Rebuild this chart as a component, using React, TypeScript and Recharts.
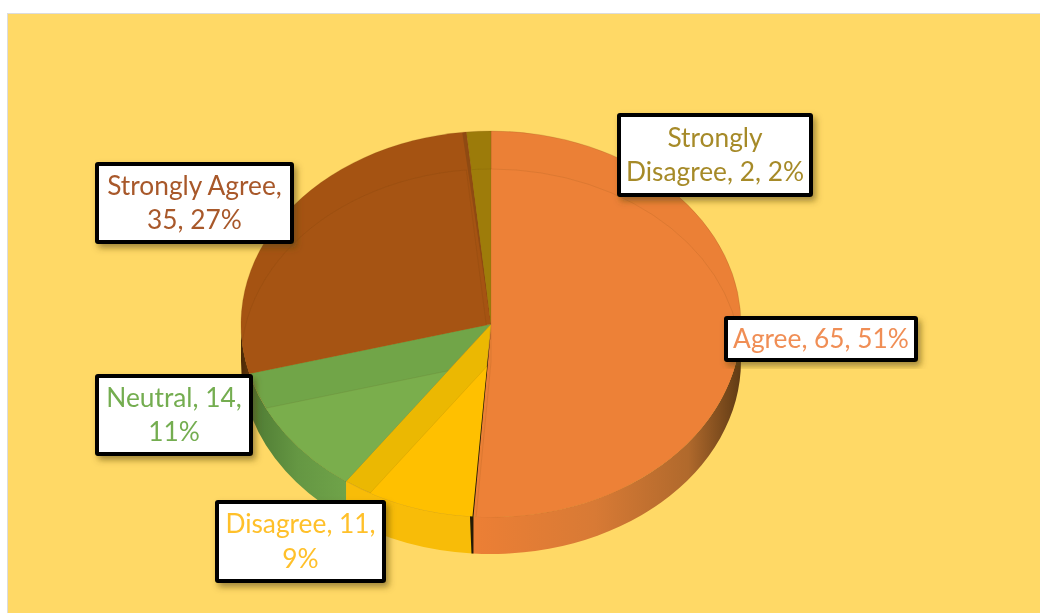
import React from 'react';
import { PieChart, Pie } from 'recharts';

const categories = ['Agree', 'Disagree', 'Neutral', 'Strongly Agree', 'Strongly Disagree'];
const values = [65, 11, 14, 35, 2];
const labelLines = [
    ['Agree, 65, 51%'],
    ['Disagree, 11,', '9%'],
    ['Neutral, 14,', '11%'],
    ['Strongly Agree,', '35, 27%'],
    ['Strongly', 'Disagree, 2, 2%'],
];

const bandColors = ['#eb8036', '#ebb802', '#71a548', '#a55312', '#9c7b0a'];
const faceColors = ['#ed8137', '#ffc000', '#7aae4c', '#a65413', '#9e7c0a'];
const wallColors = ['url(#wallOrange)', '#f8bc08', 'url(#wallGreen)', 'url(#wallBrown)', '#7a5f08'];
const textColors = ['#f08e55', '#ffc02a', '#74ad50', '#a8582a', '#a68a28'];

// x, y, width, height of the callouts
const labelBoxes = [
    [726, 318, 190, 42],
    [217, 502, 167, 79],
    [97, 376, 154, 78],
    [97, 164, 195, 78],
    [619, 115, 192, 80],
];

const CX = 491;
const CY = 324;
const RX = 250;
const RY = 193;
const DEPTH = 37;
const BEVEL = 38;

const pt = (cx: number, cy: number, angle: number) => {
    const rad = (angle * Math.PI) / 180;
    return [cx + RX * Math.cos(rad), cy - RY * Math.sin(rad)];
};

const sectorPath = (cx: number, cy: number, start: number, end: number) => {
    const [x1, y1] = pt(cx, cy, start);
    const [x2, y2] = pt(cx, cy, end);
    const large = Math.abs(start - end) > 180 ? 1 : 0;
    return `M${cx} ${cy}L${x1} ${y1}A${RX} ${RY} 0 ${large} 1 ${x2} ${y2}Z`;
};

const WallShape = (props: any) => {
    const s = Math.min(props.startAngle, 0);
    const e = Math.max(props.endAngle, -180);
    if (s <= e) return null;
    const [x1, y1] = pt(props.cx, props.cy, s);
    const [x2, y2] = pt(props.cx, props.cy, e);
    const d = `M${x1} ${y1}A${RX} ${RY} 0 0 1 ${x2} ${y2}L${x2} ${y2 + DEPTH}A${RX} ${RY} 0 0 0 ${x1} ${y1 + DEPTH}Z`;
    return <path d={d} fill={wallColors[categories.indexOf(props.name)]} />;
};

const BandShape = (props: any) => {
    const i = categories.indexOf(props.name);
    const d = sectorPath(props.cx, props.cy, props.startAngle, props.endAngle);
    return <path d={d} fill={bandColors[i]} stroke="#7a4a10" strokeOpacity={0.18} strokeWidth={1} />;
};

const FaceShape = (props: any) => {
    const i = categories.indexOf(props.name);
    const outer = sectorPath(props.cx, props.cy - BEVEL, props.startAngle, props.endAngle);
    const inner = sectorPath(props.cx, props.cy, props.startAngle, props.endAngle);
    const [ex, ey] = pt(props.cx, props.cy - BEVEL, props.endAngle);
    return (
        <g>
            <clipPath id={`face-${i}`}>
                <path d={outer} />
            </clipPath>
            <path d={inner} fill={faceColors[i]} stroke="#5a3a10" strokeOpacity={0.1} clipPath={`url(#face-${i})`} />
            {i === 0 && (
                <path
                    d={`M${props.cx} ${props.cy - BEVEL + 6}L${ex + 1} ${ey}L${ex + 1} ${ey + DEPTH}L${ex - 1} ${ey + DEPTH}L${ex - 2.5} ${ey}Z`}
                    fill="#241b06"
                />
            )}
            {i === 3 && (
                <path
                    d={`M${props.cx} ${props.cy - BEVEL}L${ex} ${ey}L${ex - 4} ${ey + 1}Z`}
                    fill="#8f4a12"
                />
            )}
        </g>
    );
};

const renderLabel = (props: any) => {
    const i = categories.indexOf(props.name);
    const [x, y, w, h] = labelBoxes[i];
    const lines = labelLines[i];
    const lineHeight = 34.5;
    const firstY = y + h / 2 - ((lines.length - 1) * lineHeight) / 2 - 1;
    return (
        <g key={props.name}>
            <rect x={x} y={y} width={w} height={h} rx={1} fill="#ffffff" stroke="#000000" strokeWidth={4} filter="url(#boxShadow)" />
            <text textAnchor="middle" fontFamily="Lato, Carlito, sans-serif" fontSize={26.3} fill={textColors[i]}>
                {lines.map((line, k) => (
                    <tspan key={k} x={x + w / 2} y={firstY + k * lineHeight} dominantBaseline="central">
                        {line}
                    </tspan>
                ))}
            </text>
        </g>
    );
};

const pieData = categories.map((name, i) => ({ name, value: values[i] }));

const App: React.FC = () => {
    return (
        <div style={{ position: 'absolute', left: 0, top: 0, width: 1040, height: 613, background: '#ffffff', overflow: 'hidden' }}>
            <div
                style={{
                    position: 'absolute',
                    left: 7,
                    top: 13,
                    width: 1033,
                    height: 600,
                    boxSizing: 'border-box',
                    background: '#ffd966',
                    borderLeft: '1px solid #dcdcdc',
                    borderTop: '1px solid #dcdcdc',
                }}
            />
            <div style={{ position: 'absolute', left: 0, top: 0, filter: 'blur(0.5px)' }}>
                <PieChart width={1040} height={613} margin={{ top: 0, right: 0, bottom: 0, left: 0 }}>
                    <defs>
                        <linearGradient id="wallOrange" gradientUnits="userSpaceOnUse" x1="474" y1="0" x2="742" y2="0">
                            <stop offset="0" stopColor="#ec7f35" />
                            <stop offset="0.45" stopColor="#d87a35" />
                            <stop offset="0.8" stopColor="#b0692c" />
                            <stop offset="1" stopColor="#5e3a14" />
                        </linearGradient>
                        <linearGradient id="wallGreen" gradientUnits="userSpaceOnUse" x1="250" y1="0" x2="346" y2="0">
                            <stop offset="0" stopColor="#4e7a33" />
                            <stop offset="0.5" stopColor="#659743" />
                            <stop offset="1" stopColor="#6fa349" />
                        </linearGradient>
                        <linearGradient id="wallBrown" gradientUnits="userSpaceOnUse" x1="241" y1="0" x2="252" y2="0">
                            <stop offset="0" stopColor="#4a2806" />
                            <stop offset="1" stopColor="#6a3a0c" />
                        </linearGradient>
                        <filter id="boxShadow" x="-10%" y="-15%" width="125%" height="135%">
                            <feDropShadow dx="3" dy="4" stdDeviation="3" floodColor="#5a4a10" floodOpacity="0.55" />
                        </filter>
                    </defs>
                    <Pie data={pieData} dataKey="value" nameKey="name" cx={CX} cy={CY} outerRadius={RX} startAngle={90} endAngle={-270} isAnimationActive={false} shape={WallShape} />
                    <Pie data={pieData} dataKey="value" nameKey="name" cx={CX} cy={CY} outerRadius={RX} startAngle={90} endAngle={-270} isAnimationActive={false} shape={BandShape} />
                    <Pie data={pieData} dataKey="value" nameKey="name" cx={CX} cy={CY + BEVEL} outerRadius={RX} startAngle={90} endAngle={-270} isAnimationActive={false} shape={FaceShape} label={renderLabel} labelLine={false} />
                </PieChart>
            </div>
        </div>
    );
};

export default App;
